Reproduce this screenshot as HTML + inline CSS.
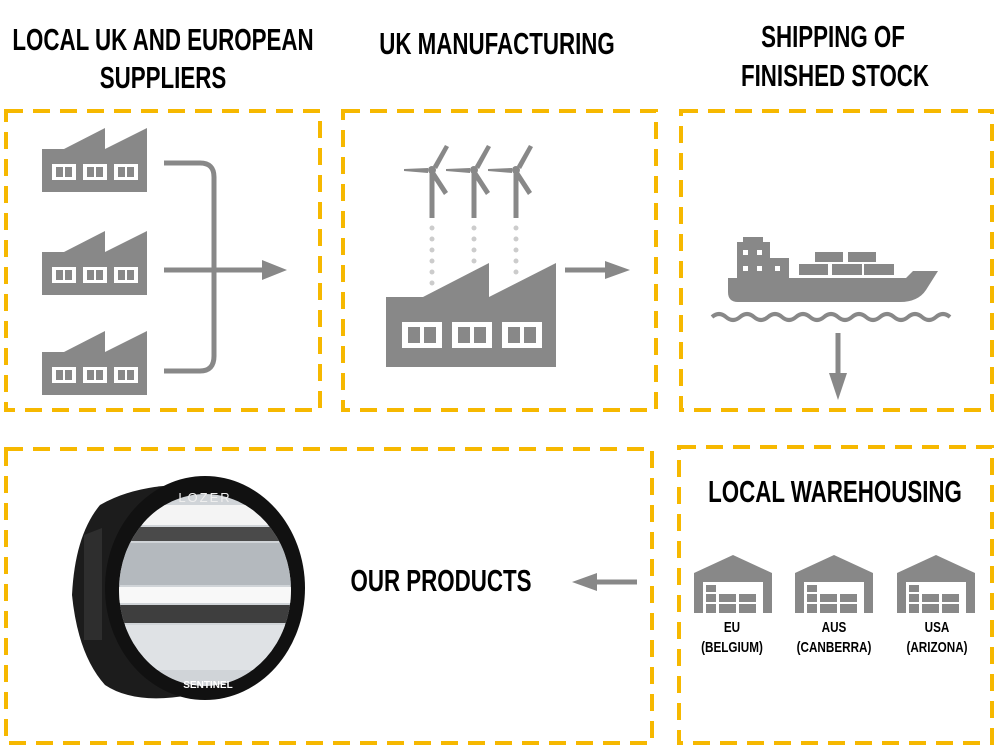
<!DOCTYPE html>
<html><head><meta charset="utf-8"><style>
html,body{margin:0;padding:0;background:#fff;}
body{width:1000px;height:750px;position:relative;overflow:hidden;font-family:"Liberation Sans",sans-serif;}
.t{position:absolute;font-weight:bold;color:#000;text-align:center;white-space:nowrap;transform:translateX(-50%) scaleX(0.72);font-size:31px;line-height:38px;}
.s{position:absolute;font-weight:bold;color:#000;text-align:center;white-space:nowrap;transform:translateX(-50%) scaleX(0.78);font-size:15px;line-height:20px;}
svg{position:absolute;left:0;top:0;}
</style></head><body>
<svg width="1000" height="750" viewBox="0 0 1000 750">
<defs>
<g id="fac">
<path d="M42 149 L64 149 L105 128 L105 149 L147 128 L147 192 L42 192 Z" fill="#888"/>
<g fill="#fff"><rect x="52" y="164" width="24" height="16"/><rect x="83" y="164" width="24" height="16"/><rect x="114" y="164" width="24" height="16"/></g>
<g fill="#888"><rect x="56" y="167" width="7" height="10"/><rect x="65" y="167" width="7" height="10"/><rect x="87" y="167" width="7" height="10"/><rect x="96" y="167" width="7" height="10"/><rect x="118" y="167" width="7" height="10"/><rect x="127" y="167" width="7" height="10"/></g>
</g>
<g id="wh">
<path d="M0 18 L39 0 L78 18 L78 58 L69 58 L69 27 L9 27 L9 58 L0 58 Z" fill="#888"/>
<g fill="#888"><rect x="12" y="30" width="10" height="7"/><rect x="12" y="39" width="10" height="8"/><rect x="25" y="39" width="17" height="8"/><rect x="45" y="39" width="17" height="8"/><rect x="12" y="49" width="10" height="9"/><rect x="25" y="49" width="17" height="9"/><rect x="45" y="49" width="17" height="9"/></g>
</g>
<g id="tb">
<rect x="-2.5" y="0" width="5" height="48" fill="#888"/>
<circle cx="0" cy="0" r="4" fill="#888"/>
<path d="M-4 -2 L-28 -1 L-28 1 L-4 3 Z" fill="#888"/>
<path d="M1 -4 L13 -25 L17 -23 L5 -1 Z" fill="#888"/>
<path d="M3 2 L16 22 L12 25 L-1 5 Z" fill="#888"/>
</g>
<clipPath id="lens"><ellipse cx="205" cy="590" rx="86" ry="96"/></clipPath>
</defs>
<g fill="none" stroke="#f6b800" stroke-width="4" stroke-dasharray="17 10">
<rect x="6" y="111" width="314" height="299"/>
<rect x="343" y="111" width="313" height="299"/>
<rect x="681" y="111" width="311" height="299"/>
<rect x="6" y="449" width="646" height="294"/>
<rect x="679" y="447" width="313" height="296"/>
</g>
<use href="#fac"/><use href="#fac" y="103"/><use href="#fac" y="203"/>
<g stroke="#888" stroke-width="5" fill="none">
<path d="M164 163 L200 163 Q214 163 214 177 L214 356 Q214 371 200 371 L164 371"/>
<path d="M164 270 L264 270"/>
<path d="M565 270 L608 270"/>
<path d="M597 582 L637 582"/>
<path d="M838 333 L838 376"/>
</g>
<g fill="#888">
<path d="M262 260 L287 270 L262 280 Z"/>
<path d="M605 261 L630 270 L605 279 Z"/>
<path d="M597 573 L572 582 L597 591 Z"/>
<path d="M829 373 L847 373 L838 400 Z"/>
</g>
<path d="M386 297 L423 297 L489 263 L489 297 L556 263 L556 367 L386 367 Z" fill="#888"/>
<g fill="#fff"><rect x="402" y="322" width="40" height="26"/><rect x="452" y="322" width="40" height="26"/><rect x="502" y="322" width="40" height="26"/></g>
<g fill="#888"><rect x="408" y="327" width="12" height="16"/><rect x="424" y="327" width="12" height="16"/><rect x="458" y="327" width="12" height="16"/><rect x="474" y="327" width="12" height="16"/><rect x="508" y="327" width="12" height="16"/><rect x="524" y="327" width="12" height="16"/></g>
<use href="#tb" x="432" y="170"/><use href="#tb" x="474" y="170"/><use href="#tb" x="516" y="170"/>
<g fill="#ccc">
<circle cx="432" cy="228" r="2.5"/><circle cx="432" cy="239" r="2.5"/><circle cx="432" cy="250" r="2.5"/><circle cx="432" cy="261" r="2.5"/><circle cx="432" cy="272" r="2.5"/><circle cx="432" cy="283" r="2.5"/>
<circle cx="474" cy="228" r="2.5"/><circle cx="474" cy="239" r="2.5"/><circle cx="474" cy="250" r="2.5"/><circle cx="474" cy="261" r="2.5"/>
<circle cx="516" cy="228" r="2.5"/><circle cx="516" cy="239" r="2.5"/><circle cx="516" cy="250" r="2.5"/><circle cx="516" cy="261" r="2.5"/><circle cx="516" cy="272" r="2.5"/>
</g>
<g fill="#888">
<path d="M743 237 L763 237 L763 242 L770 242 L770 258 L789 258 L789 278 L906 278 L913 271 L938 271 L926 290 Q918 302 900 302 L738 302 Q728 302 728 292 L728 278 L737 278 L737 242 L743 242 Z"/>
<rect x="799" y="264" width="29" height="11"/><rect x="832" y="264" width="30" height="11"/><rect x="864" y="264" width="30" height="11"/>
<rect x="815" y="252" width="28" height="10"/><rect x="848" y="252" width="28" height="10"/>
</g>
<g fill="#fff"><rect x="743" y="250" width="5" height="5"/><rect x="757" y="250" width="5" height="5"/><rect x="743" y="266" width="5" height="5"/><rect x="757" y="266" width="5" height="5"/><rect x="775" y="266" width="5" height="5"/></g>
<path d="M712 317 q7 -6 14 0 t14 0 t14 0 t14 0 t14 0 t14 0 t14 0 t14 0 t14 0 t14 0 t14 0 t14 0 t14 0 t14 0 t14 0 t14 0 t14 0" fill="none" stroke="#888" stroke-width="4"/>
<use href="#wh" x="694" y="555"/><use href="#wh" x="795" y="555"/><use href="#wh" x="897" y="555"/>
<path d="M100 505 Q135 485 185 485 L190 695 Q135 705 105 685 Q78 655 72 595 Q75 535 100 505 Z" fill="#1c1c1c"/>
<path d="M84 535 L102 528 L102 640 L84 640 Z" fill="#2e2e2e"/>
<ellipse cx="205" cy="588" rx="100" ry="112" fill="#111"/>
<g clip-path="url(#lens)">
<rect x="110" y="490" width="190" height="200" fill="#d0d4d8"/>
<rect x="110" y="505" width="190" height="20" fill="#f4f4f4"/>
<rect x="110" y="527" width="190" height="14" fill="#4a4a4a"/>
<rect x="110" y="543" width="190" height="42" fill="#b4b9be"/>
<rect x="110" y="587" width="190" height="16" fill="#f8f8f8"/>
<rect x="110" y="605" width="190" height="18" fill="#3e3e3e"/>
<rect x="110" y="625" width="190" height="45" fill="#dfe2e5"/>
</g>
<text x="205" y="502" font-family="Liberation Sans" font-size="13" fill="#eee" text-anchor="middle" letter-spacing="2">LOZER</text>
<text x="208" y="688" font-family="Liberation Sans" font-weight="bold" font-size="10" fill="#fff" text-anchor="middle">SENTINEL</text>
</svg>
<div class="t" style="left:163px;top:21px;">LOCAL UK AND EUROPEAN</div>
<div class="t" style="left:163px;top:59px;">SUPPLIERS</div>
<div class="t" style="left:497px;top:25px;">UK MANUFACTURING</div>
<div class="t" style="left:833px;top:18px;">SHIPPING OF</div>
<div class="t" style="left:835px;top:57px;">FINISHED STOCK</div>
<div class="t" style="left:835px;top:473px;">LOCAL WAREHOUSING</div>
<div class="t" style="left:441px;top:562px;">OUR PRODUCTS</div>
<div class="s" style="left:732px;top:618px;">EU</div>
<div class="s" style="left:732px;top:638px;">(BELGIUM)</div>
<div class="s" style="left:834px;top:618px;">AUS</div>
<div class="s" style="left:834px;top:638px;">(CANBERRA)</div>
<div class="s" style="left:937px;top:618px;">USA</div>
<div class="s" style="left:937px;top:638px;">(ARIZONA)</div>
</body></html>
